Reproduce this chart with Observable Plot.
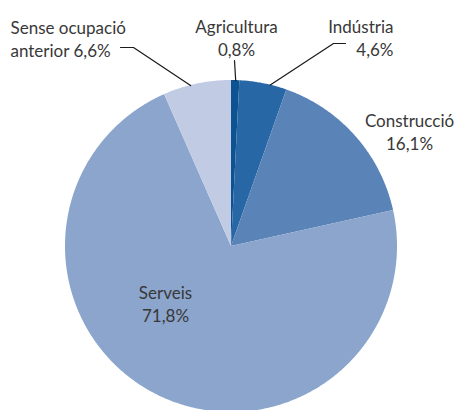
<!DOCTYPE html>
<html><head><meta charset="utf-8">
<script src="https://cdn.jsdelivr.net/npm/d3@7"></script>
<script src="https://cdn.jsdelivr.net/npm/@observablehq/plot@0.6"></script>
<style>html,body{margin:0;padding:0;background:#fff;overflow:hidden}</style>
</head><body><div id="chart"></div>
<script>
// Data
const categories = ["Agricultura", "Indústria", "Construcció", "Serveis", "Sense ocupació anterior"];
const shares = [0.8, 4.6, 16.1, 71.8, 6.6];
const valueLabels = ["0,8%", "4,6%", "16,1%", "71,8%", "6,6%"];
const colors = ["#0d5291", "#2767a6", "#5a83b8", "#8ba5cc", "#c1cce4"];
const labelLines = [["Agricultura", "0,8%"], ["Indústria", "4,6%"], ["Construcció", "16,1%"], ["Serveis", "71,8%"], ["Sense ocupació", "anterior 6,6%"]];

// Layout (pixels)
const W = 457, H = 410, CX = 231, CY = 246, R = 166;
const labelX = [236, 393, 409, 165, 10];
const labelY = [55, 55, 149, 321, 56]; // bottom of the last line
const labelAnchor = ["middle", "end", "middle", "middle", "start"];
const leaderFrac = [0.5, 0.64, null, null, 0.4];   // where on the slice's arc the leader touches
const leaderElbows = [[[234, 60]], [[345, 43], [333, 43]], null, null, [[120, 47], [133, 47]]];

// Slice geometry from data
const total = d3.sum(shares);
const starts = d3.cumsum([0, ...shares]).map(v => v / total * 2 * Math.PI);
const slices = [];
categories.forEach((c, i) => {
  const a0 = starts[i], a1 = starts[i + 1];
  const n = Math.max(2, Math.ceil((a1 - a0) / (Math.PI / 360)));
  for (let k = 0; k <= n; ++k) {
    const a = a0 + (a1 - a0) * k / n;
    slices.push({cat: c, x: CX + R * Math.sin(a), y: CY - R * Math.cos(a), cx: CX, cy: CY});
  }
});

const leaders = [];
categories.forEach((c, i) => {
  if (leaderFrac[i] == null) return;
  leaderElbows[i].forEach(([x, y]) => leaders.push({id: c, x, y}));
  const a = starts[i] + (starts[i + 1] - starts[i]) * leaderFrac[i];
  leaders.push({id: c, x: CX + R * Math.sin(a), y: CY - R * Math.cos(a)});
});

const labels = categories.map((c, i) => ({cat: c, text: labelLines[i].join("\n"), x: labelX[i], y: labelY[i], anchor: labelAnchor[i]}));

const textOpts = anchor => ({
  x: "x", y: "y", text: "text", textAnchor: anchor, lineAnchor: "bottom", lineHeight: 1.3,
  fontSize: 17, fontFamily: "Lato, 'Open Sans', sans-serif", fill: "#383838"
});

const chart = Plot.plot({
  width: W, height: H, margin: 0,
  x: {domain: [0, W], range: [0, W], axis: null},
  y: {domain: [0, H], range: [0, H], axis: null},
  color: {domain: categories, range: colors},
  marks: [
    Plot.area(slices, {x1: "x", y1: "y", x2: "cx", y2: "cy", z: "cat", fill: "cat", curve: "linear"}),
    Plot.line(leaders, {x: "x", y: "y", z: "id", stroke: "#1a1a1a", strokeWidth: 1.2}),
    ...["start", "middle", "end"].map(a => Plot.text(labels.filter(d => d.anchor === a), textOpts(a)))
  ]
});
document.getElementById("chart").append(chart);
</script></body></html>
